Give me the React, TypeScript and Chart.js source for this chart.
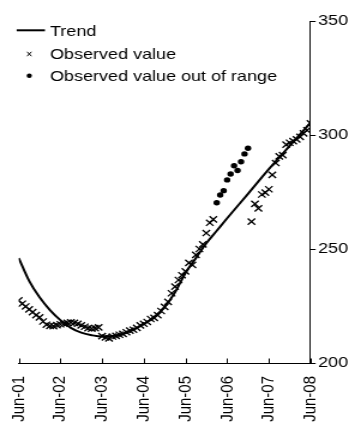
import React, { useEffect, useRef } from 'react';
import { Chart, registerables } from 'chart.js';

Chart.register(...registerables);

// Tick labels, one per year from June 2001
const tickLabels = ['Jun-01', 'Jun-02', 'Jun-03', 'Jun-04', 'Jun-05', 'Jun-06', 'Jun-07', 'Jun-08'];

// x values are months counted from June 2001
const observedMonths = [
  0, 1, 2, 3, 4, 5, 6, 7, 8, 9, 10, 11, 12, 13, 14, 15, 16, 17, 18, 19, 20, 21, 22, 23,
  24, 25, 26, 27, 28, 29, 30, 31, 32, 33, 34, 35, 36, 37, 38, 39, 40, 41, 42, 43, 44, 45,
  46, 47, 48, 49, 50, 51, 52, 53, 54, 55, 56,
  67, 68, 69, 70, 71, 72, 73, 74, 75, 76, 77, 78, 79, 80, 81, 82, 83, 84,
];
const observedValues = [
  227.5, 226, 224.8, 223.5, 222.3, 221, 220, 218.2, 216.8, 216.3, 216.2, 216.6, 217, 217.2,
  217.6, 217.8, 217.6, 217.2, 216.5, 215.9, 215.3, 215.1, 215.3, 215.6,
  211.8, 211.2, 210.8, 211.6, 211.9, 212.4, 212.8, 213.5, 214.2, 214.6, 215.4, 216.5,
  217.2, 218, 219.3, 219.8, 221, 222.8, 224.6, 226.8, 230.6, 233.5, 236.4, 238.5,
  240.2, 243.9, 243, 247.4, 250, 252, 257, 261.5, 263,
  262, 269.8, 267.8, 273.9, 274.7, 276.2, 282.5, 287.7, 290.6, 291.2, 295.8, 296.6,
  297.3, 298.1, 299.2, 300.7, 302.1, 305.1,
];

const outOfRangeMonths = [57, 58, 59, 60, 61, 62, 63, 64, 65, 66];
const outOfRangeValues = [270.3, 273.7, 275.6, 280.3, 282.9, 286.5, 284.4, 288.3, 291.7, 294.2];

const trendMonths = [0, 3, 6, 9, 12, 15, 18, 21, 24, 27, 30, 33, 36, 39, 42, 45, 48, 51, 54, 57, 60, 66, 72, 78, 84];
const trendValues = [
  246, 236, 228.8, 223.2, 218.8, 215.4, 213.3, 212.2, 211.6, 211.8, 212.7, 214.6, 217,
  220.2, 224.5, 231, 239.5, 246, 252.5, 258, 263.5, 274.2, 285, 295.2, 305.4,
];

const CANVAS_W = 296;
const CANVAS_H = 431;
const DISPLAY_W = 355;
const FONT_FAMILY = '"Liberation Sans", Arial, Helvetica, sans-serif';
const FONT_SIZE = 15;

const toPoints = (xs: number[], ys: number[]) => xs.map((x, i) => ({ x, y: ys[i] }));

// Upward x-axis tick marks and the key in the top-left corner
const decorPlugin = {
  id: 'decor',
  afterDraw(chart: any) {
    const { ctx, chartArea } = chart;
    const xScale = chart.scales.x;
    ctx.save();
    ctx.strokeStyle = '#000';
    ctx.lineWidth = 1;
    xScale.ticks.forEach((t: any) => {
      const px = Math.round(xScale.getPixelForValue(t.value)) + 0.5;
      ctx.beginPath();
      ctx.moveTo(px, chartArea.bottom);
      ctx.lineTo(px, chartArea.bottom - 4.5);
      ctx.stroke();
    });

    ctx.font = `${FONT_SIZE}px ${FONT_FAMILY}`;
    ctx.fillStyle = '#000';
    ctx.textBaseline = 'alphabetic';
    ctx.textAlign = 'left';

    // Trend
    ctx.lineWidth = 2;
    ctx.beginPath();
    ctx.moveTo(13.9, 30.3);
    ctx.lineTo(37.5, 30.3);
    ctx.stroke();
    ctx.fillText('Trend', 41.7, 35.7);

    // Observed value
    ctx.lineWidth = 1;
    const cx = 24.4;
    const cy = 54;
    ctx.beginPath();
    ctx.moveTo(cx - 1.8, cy - 2.2);
    ctx.lineTo(cx + 1.8, cy + 2.2);
    ctx.moveTo(cx - 1.8, cy + 2.2);
    ctx.lineTo(cx + 1.8, cy - 2.2);
    ctx.stroke();
    ctx.fillText('Observed value', 41.7, 59);

    // Observed value out of range
    ctx.beginPath();
    ctx.arc(24.4, 75.8, 2.2, 0, Math.PI * 2);
    ctx.fill();
    ctx.fillText('Observed value out of range', 41.7, 80.5);
    ctx.restore();
  },
};

export default function App() {
  const canvasRef = useRef<HTMLCanvasElement | null>(null);

  useEffect(() => {
    const canvas = canvasRef.current;
    if (!canvas) return;
    const chart = new Chart(canvas, {
      type: 'scatter',
      data: {
        datasets: [
          {
            label: 'Trend',
            data: toPoints(trendMonths, trendValues),
            showLine: true,
            borderColor: '#000',
            borderWidth: 2,
            pointRadius: 0,
            cubicInterpolationMode: 'monotone',
            order: 1,
          },
          {
            label: 'Observed value',
            data: toPoints(observedMonths, observedValues),
            pointStyle: 'crossRot',
            pointRadius: 4.4,
            borderColor: '#000',
            borderWidth: 1.3,
            backgroundColor: 'rgba(0,0,0,0)',
            order: 2,
          },
          {
            label: 'Observed value out of range',
            data: toPoints(outOfRangeMonths, outOfRangeValues),
            pointStyle: 'circle',
            pointRadius: 2.7,
            borderWidth: 0,
            backgroundColor: '#000',
            order: 3,
          },
        ],
      },
      options: {
        responsive: false,
        animation: false,
        devicePixelRatio: 1,
        layout: { padding: { left: 15.6, right: 0, top: 21, bottom: 0 } },
        plugins: {
          legend: { display: false },
          tooltip: { enabled: false },
        },
        scales: {
          x: {
            type: 'linear',
            min: 0,
            max: 84,
            grid: { display: true, drawOnChartArea: false, drawTicks: false },
            border: { display: true, color: '#000', width: 1 },
            afterFit: (scale: any) => {
              scale.height = 68;
            },
            ticks: {
              stepSize: 12,
              autoSkip: false,
              minRotation: 90,
              maxRotation: 90,
              padding: 13,
              color: '#000',
              font: { family: FONT_FAMILY, size: FONT_SIZE },
              callback: (v: any) => tickLabels[Math.round(Number(v) / 12)] ?? '',
            },
          },
          y: {
            position: 'right',
            min: 200,
            max: 350,
            afterFit: (scale: any) => {
              scale.width = 37.1;
            },
            grid: { display: true, drawOnChartArea: false, drawTicks: true, tickLength: 4.3, color: '#000' },
            border: { display: true, color: '#000', width: 1 },
            ticks: {
              stepSize: 50,
              padding: 2,
              color: '#000',
              font: { family: FONT_FAMILY, size: FONT_SIZE },
            },
          },
        },
      },
      plugins: [decorPlugin],
    });
    return () => chart.destroy();
  }, []);

  return (
    <div style={{ position: 'absolute', left: 0, top: 0, width: DISPLAY_W, height: CANVAS_H, background: '#fff' }}>
      <canvas
        ref={canvasRef}
        width={CANVAS_W}
        height={CANVAS_H}
        style={{ display: 'block', width: `${DISPLAY_W}px`, height: `${CANVAS_H}px` }}
      />
    </div>
  );
}
